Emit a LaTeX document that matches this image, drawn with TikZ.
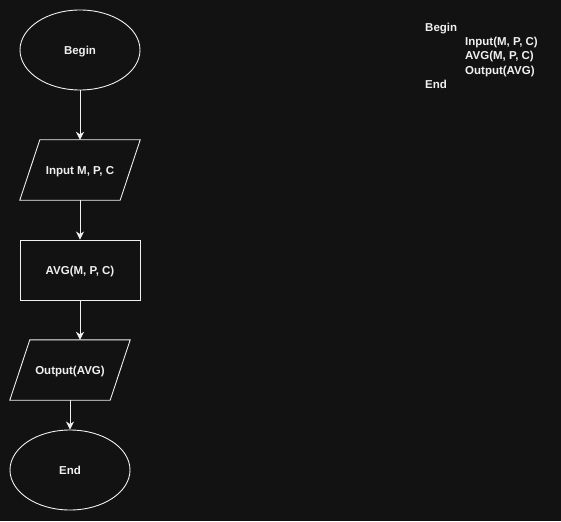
\documentclass[tikz,border=0pt]{standalone}
\usepackage{fontspec}
\setmainfont{Liberation Sans}
\usetikzlibrary{shapes.geometric,arrows.meta}
\definecolor{bg}{HTML}{121212}
\definecolor{fg}{HTML}{F0F0F0}
\begin{document}
\begin{tikzpicture}[x=1pt,y=-1pt,
  every node/.style={text=fg,font=\fontsize{11.5}{14}\selectfont\bfseries,inner sep=0pt},
  shapetext/.style={text height=9pt,text depth=0pt},
  oval/.style={shapetext,draw=fg,line width=0.9pt,ellipse,minimum width=120pt,minimum height=80pt},
  procbox/.style={shapetext,draw=fg,line width=0.9pt,rectangle,minimum width=120pt,minimum height=60pt},
  iobox/.style={shapetext,rectangle,minimum width=120pt,minimum height=60pt},
  para/.style={draw=fg,line width=0.9pt},
  conn/.style={draw=fg,line width=0.9pt,-{Stealth[length=8pt,width=8pt,inset=2.5pt]}},
  code/.style={anchor=base west}]
\fill[bg] (0,0) rectangle (561,521);
\useasboundingbox (0,0) rectangle (561,521);

\node[oval] (begin) at (80,50) {Begin};
\node[iobox] (input) at (80,170) {Input M, P, C};
\draw[para] ([xshift=20pt]input.north west) -- (input.north east) -- ([xshift=-20pt]input.south east) -- (input.south west) -- cycle;
\node[procbox] (avg) at (80,270) {AVG(M, P, C)};
\node[iobox] (output) at (70,370) {Output(AVG)};
\draw[para] ([xshift=20pt]output.north west) -- (output.north east) -- ([xshift=-20pt]output.south east) -- (output.south west) -- cycle;
\node[oval] (end) at (70,470) {End};

\draw[conn] (begin.south) -- (input.north);
\draw[conn] (input.south) -- (avg.north);
\draw[conn] (avg.south) -- (avg.south |- output.north);
\draw[conn] (output.south) -- (end.north);

\node[code] (c1) at (425,31.5) {Begin};
\node[code] (c2) at (465,45.8) {Input(M, P, C)};
\node[code] (c3) at (465,60) {AVG(M, P, C)};
\node[code] (c4) at (465,74.3) {Output(AVG)};
\node[code] (c5) at (425,88.5) {End};
\end{tikzpicture}
\end{document}
